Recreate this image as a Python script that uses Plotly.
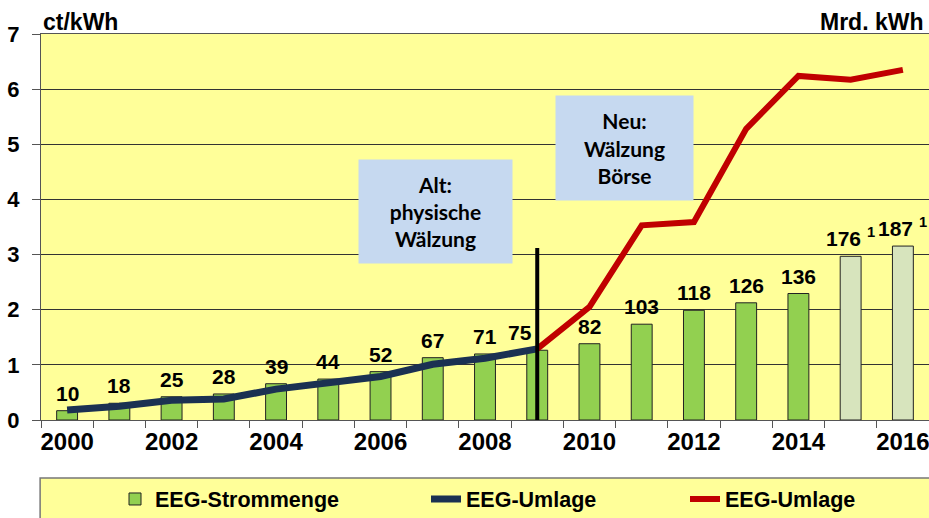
import plotly.graph_objects as go

# ---- data ----
years = [str(y) for y in range(2000, 2017)]
year_labels = [y if int(y) % 2 == 0 else "" for y in years]
strommenge = [10, 18, 25, 28, 39, 44, 52, 67, 71, 75, 82, 103, 118, 126, 136, 176, 187]
footnotes = [""] * 15 + ["1", "1"]
is_forecast = [False] * 15 + [True, True]

umlage_alt_years = years[:10]
umlage_alt = [0.18, 0.25, 0.36, 0.38, 0.56, 0.67, 0.79, 1.01, 1.12, 1.29]
umlage_neu_years = years[9:]
umlage_neu = [1.29, 2.05, 3.53, 3.59, 5.28, 6.24, 6.17, 6.35]

divider_year = "2009"
divider_top = 3.12

# ---- styles ----
BOLD = "Liberation Sans"
GREEN = "#92D050"
GREY_GREEN = "#D7E4BD"
NAVY = "#1B3152"
RED = "#C00000"
YELLOW = "#FFFF99"
BOX = "#C6D9F0"

# body margin removed via post_script, figure fills the window
OFF = 0
W, H = 929 - OFF, 518 - OFF

bar_colors = [GREY_GREEN if f else GREEN for f in is_forecast]
bar_text = [f"{v} <sup>{n}</sup>" if n else str(v) for v, n in zip(strommenge, footnotes)]
label_shift = [-17 if y == divider_year else 0 for y in years]

fig = go.Figure()

fig.add_trace(go.Bar(
    x=years, y=strommenge, name="EEG-Strommenge", yaxis="y",
    marker=dict(color=bar_colors, line=dict(color="#222222", width=1)),
    width=0.4, legend="legend",
))

fig.add_trace(go.Scatter(
    x=umlage_alt_years, y=umlage_alt, name="EEG-Umlage", yaxis="y2",
    mode="lines", line=dict(color=NAVY, width=7), legend="legend2",
))
fig.add_trace(go.Scatter(
    x=umlage_neu_years, y=umlage_neu, name="EEG-Umlage", yaxis="y2",
    mode="lines", line=dict(color=RED, width=6), legend="legend3",
))
fig.add_trace(go.Scatter(
    x=[divider_year, divider_year], y=[0, divider_top], yaxis="y2",
    mode="lines", line=dict(color="black", width=4), showlegend=False,
    cliponaxis=False,
))

legend_common = dict(
    orientation="h", yanchor="middle", y=(518 - 499) / H, yref="container",
    xref="container", xanchor="left",
    bgcolor="rgba(0,0,0,0)",
    font=dict(family=BOLD, size=21.5, color="black", weight="bold"),
)

bar_labels = [
    dict(text=t, x=i, y=v, xref="x", yref="y", xanchor="center", yanchor="bottom",
         yshift=4, xshift=s, showarrow=False,
         font=dict(family=BOLD, size=21, color="black", weight="bold"))
    for i, (v, t, s) in enumerate(zip(strommenge, bar_text, label_shift))
]

fig.update_layout(
    width=W, height=H,
    margin=dict(l=41 - OFF, r=0, t=34 - OFF, b=H - (420 - OFF), autoexpand=False),
    paper_bgcolor="white", plot_bgcolor=YELLOW,
    bargap=0.6,
    xaxis=dict(
        type="category", tickmode="array", tickvals=years, ticktext=year_labels,
        tickson="boundaries", ticks="outside", ticklen=7, tickcolor="#555555",
        tickangle=0, automargin=False,
        showline=True, linecolor="#555555", linewidth=1, mirror=True,
        showgrid=False,
        tickfont=dict(family=BOLD, size=24, color="black", weight="bold"),
        range=[-0.5, 16.5],
    ),
    yaxis=dict(
        side="right", range=[0, 415], showticklabels=False, showgrid=False,
        zeroline=False, ticks="", automargin=False,
    ),
    yaxis2=dict(
        overlaying="y", side="left", range=[0, 7], dtick=1, automargin=False,
        showgrid=True, gridcolor="#333333", gridwidth=1,
        zeroline=False, showline=True, linecolor="#555555", linewidth=1,
        ticks="outside", ticklen=8, tickcolor="#555555", ticklabelstandoff=8,
        tickfont=dict(family=BOLD, size=22, color="black", weight="bold"),
    ),
    legend=dict(x=(115 - OFF) / W, **legend_common),
    legend2=dict(x=(426 - OFF) / W, **legend_common),
    legend3=dict(x=(685 - OFF) / W, **legend_common),
    shapes=[
        dict(type="rect", xref="paper", yref="paper",
             x0=-0.001, x1=1.01, y0=-0.30, y1=-0.150,
             fillcolor=YELLOW, line=dict(color="#777777", width=1.5), layer="below"),
    ],
    annotations=bar_labels + [
        dict(text="ct/kWh", xref="paper", yref="paper", x=0.0, y=1.0,
             xanchor="left", yanchor="bottom", yshift=-3, showarrow=False,
             font=dict(family=BOLD, size=23, color="black", weight="bold")),
        dict(text="Mrd. kWh", xref="paper", yref="paper", x=0.9965, y=1.0,
             xanchor="right", yanchor="bottom", yshift=-3, showarrow=False,
             font=dict(family=BOLD, size=23, color="black", weight="bold")),
        dict(text="Alt:<br>physische<br>Wälzung", xref="paper", yref="paper",
             x=0.4443, y=0.540, xanchor="center", yanchor="middle",
             width=151, height=101, bgcolor=BOX, showarrow=False,
             font=dict(family="Lato", size=21, color="black", weight="bold")),
        dict(text="Neu:<br>Wälzung<br>Börse", xref="paper", yref="paper",
             x=0.657, y=0.7047, xanchor="center", yanchor="middle",
             width=135, height=102, bgcolor=BOX, showarrow=False,
             font=dict(family="Lato", size=21, color="black", weight="bold")),
    ],
)

fig.write_html(
    "out.html",
    config={"displayModeBar": False},
    post_script="document.body.style.margin='0';document.body.style.overflow='hidden';",
)
